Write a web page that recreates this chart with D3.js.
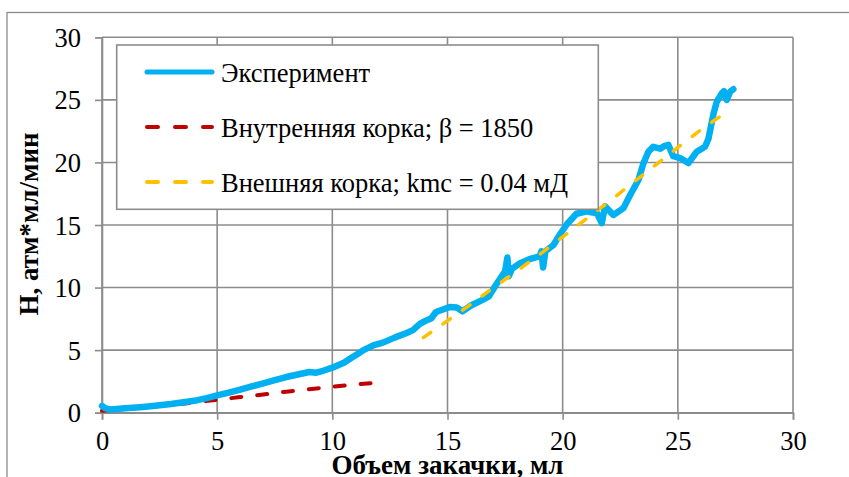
<!DOCTYPE html>
<html>
<head>
<meta charset="utf-8">
<script src="https://cdn.jsdelivr.net/npm/d3@7"></script>
<style>
  body { margin: 0; background: #fff; }
  svg { display: block; font-family: "Liberation Serif", "Times New Roman", serif; }
</style>
</head>
<body>
<div id="chart"></div>
<script>
const experiment = [
  [0, 0.55], [0.15, 0.35], [0.4, 0.25], [1, 0.35], [1.5, 0.42], [2, 0.5], [3, 0.7],
  [4, 0.95], [4.5, 1.15], [5, 1.38], [5.5, 1.6], [6, 1.85], [6.5, 2.1], [7, 2.35],
  [7.5, 2.6], [8, 2.85], [8.5, 3.05], [9, 3.25], [9.3, 3.2], [9.6, 3.35], [10, 3.6],
  [10.5, 4.0], [10.8, 4.35], [11.1, 4.7], [11.35, 5.0], [11.8, 5.4], [12.2, 5.6],
  [12.7, 6.0], [13.2, 6.35], [13.5, 6.6], [13.8, 7.1], [14, 7.3], [14.3, 7.55],
  [14.5, 8.05], [15.1, 8.45], [15.4, 8.4], [15.65, 8.1], [16, 8.55], [16.5, 9.0],
  [16.8, 9.3], [17.1, 10.2], [17.5, 11.3], [17.6, 12.4], [17.66, 10.9], [17.8, 11.5],
  [18.15, 11.95], [18.6, 12.3], [19.0, 12.5], [19.08, 12.9], [19.15, 11.6], [19.25, 12.9],
  [19.6, 13.4], [19.9, 14.3], [20.2, 15.1], [20.6, 15.9], [21.05, 16.1], [21.3, 16.0],
  [21.5, 15.9], [21.7, 15.15], [21.84, 16.5], [22.2, 15.8], [22.64, 16.35], [22.93, 17.4],
  [23.29, 18.6], [23.5, 19.9], [23.72, 20.85], [23.93, 21.25], [24.23, 21.1], [24.4, 21.3],
  [24.59, 21.4], [24.8, 20.5], [25.1, 20.35], [25.46, 19.95], [25.82, 20.85], [26.18, 21.25],
  [26.33, 21.9], [26.55, 23.9], [26.69, 24.85], [26.9, 25.5], [27.0, 25.7], [27.12, 25.0],
  [27.27, 25.65], [27.41, 25.85]
];

// internal cake model (beta = 1850)
const innerCake = [
  [0, 0.15], [1, 0.3], [2, 0.45], [3, 0.62], [4, 0.82], [5, 1.03], [6, 1.25], [7, 1.45],
  [8, 1.68], [9, 1.88], [10, 2.07], [11, 2.25], [11.8, 2.38]
];

// external cake model (kmc = 0.04 mD)
const outerCake = [
  [13.95, 6.0], [15, 7.35], [16, 8.65], [17, 10.0], [18, 11.3], [19, 12.65], [20, 14.05],
  [21, 15.45], [22, 16.85], [23, 18.3], [24, 19.75], [25, 21.2], [26, 22.6], [27.2, 24.15]
];

const xTicks = [0, 5, 10, 15, 20, 25, 30];
const yTicks = [0, 5, 10, 15, 20, 25, 30];

const legendLabels = ["Эксперимент", "Внутренняя корка; β = 1850", "Внешняя корка; kmc = 0.04 мД"];
const xTitle = "Объем закачки, мл";
const yTitle = "H, атм*мл/мин";

const W = 849, H = 477;
const gridColor = "#8c8c8c";
const serif = "'Liberation Serif', 'Times New Roman', serif";

const svg = d3.select("#chart").append("svg")
  .attr("width", W)
  .attr("height", H);

// outer chart frame (runs past the right and bottom edges)
svg.append("rect")
  .attr("x", 7).attr("y", 12.5)
  .attr("width", 900).attr("height", 500)
  .attr("fill", "none")
  .attr("stroke", gridColor)
  .attr("stroke-width", 1.3);

const x = d3.scaleLinear().domain([0, 30]).range([102, 793]);
const y = d3.scaleLinear().domain([0, 30]).range([412.7, 37.3]);

// grid
svg.append("g").selectAll("line")
  .data(xTicks)
  .join("line")
  .attr("x1", d => x(d)).attr("x2", d => x(d))
  .attr("y1", y(30)).attr("y2", y(0))
  .attr("stroke", gridColor).attr("stroke-width", 1.6);

svg.append("g").selectAll("line")
  .data(yTicks)
  .join("line")
  .attr("x1", x(0)).attr("x2", x(30))
  .attr("y1", d => y(d)).attr("y2", d => y(d))
  .attr("stroke", gridColor).attr("stroke-width", 1.6);

// axes
const xAxis = svg.append("g")
  .attr("transform", "translate(0," + y(0) + ")")
  .call(d3.axisBottom(x).tickValues(xTicks).tickSize(7).tickPadding(11));

const yAxis = svg.append("g")
  .attr("transform", "translate(" + x(0) + ",0)")
  .call(d3.axisLeft(y).tickValues(yTicks).tickSize(7).tickPadding(14));

[xAxis, yAxis].forEach(a => {
  a.attr("font-family", null).attr("font-size", null);
  a.select(".domain").attr("stroke", gridColor).attr("stroke-width", 1.6);
  a.selectAll(".tick line").attr("stroke", gridColor).attr("stroke-width", 1.6);
  a.selectAll(".tick text")
    .attr("fill", "#000")
    .style("font-family", serif)
    .style("font-size", "26.5px");
});
yAxis.selectAll(".tick text").attr("dy", "0.34em");

// series
const line = d3.line()
  .x(d => x(d[0]))
  .y(d => y(d[1]));

svg.append("path")
  .datum(innerCake)
  .attr("d", line)
  .attr("fill", "none")
  .attr("stroke", "#C00000")
  .attr("stroke-width", 4)
  .attr("stroke-linecap", "round")
  .attr("stroke-dasharray", "10,16");

svg.append("path")
  .datum(experiment)
  .attr("d", line)
  .attr("fill", "none")
  .attr("stroke", "#00B0F0")
  .attr("stroke-width", 6.5)
  .attr("stroke-linejoin", "round")
  .attr("stroke-linecap", "round");

svg.append("path")
  .datum(outerCake)
  .attr("d", line)
  .attr("fill", "none")
  .attr("stroke", "#FFC000")
  .attr("stroke-width", 3.5)
  .attr("stroke-linecap", "round")
  .attr("stroke-dasharray", "9,15");

// legend
const legend = svg.append("g");
legend.append("rect")
  .attr("x", 116.7).attr("y", 45)
  .attr("width", 481.6).attr("height", 164.3)
  .attr("fill", "#fff")
  .attr("stroke", gridColor)
  .attr("stroke-width", 1.6);

const legendStyles = [
  { color: "#00B0F0", width: 5, dash: null },
  { color: "#C00000", width: 4, dash: "11,17" },
  { color: "#FFC000", width: 4, dash: "11,17" }
];

legendLabels.forEach((label, i) => {
  const cy = 72 + i * 55;
  const s = legendStyles[i];
  const l = legend.append("line")
    .attr("x1", 147).attr("x2", 212)
    .attr("y1", cy).attr("y2", cy)
    .attr("stroke", s.color)
    .attr("stroke-width", s.width)
    .attr("stroke-linecap", "round");
  if (s.dash) l.attr("stroke-dasharray", s.dash);
  legend.append("text")
    .attr("x", 221)
    .attr("y", cy + 9.5)
    .style("font-family", serif)
    .style("font-size", "26.5px")
    .text(label);
});

// axis titles
svg.append("text")
  .attr("x", (x(0) + x(30)) / 2)
  .attr("y", 474)
  .attr("text-anchor", "middle")
  .style("font-family", serif)
  .style("font-size", "27px")
  .style("font-weight", "bold")
  .text(xTitle);

svg.append("text")
  .attr("transform", "translate(38," + 224 + ") rotate(-90)")
  .attr("text-anchor", "middle")
  .style("font-family", serif)
  .style("font-size", "27px")
  .style("font-weight", "bold")
  .text(yTitle);
</script>
</body>
</html>
